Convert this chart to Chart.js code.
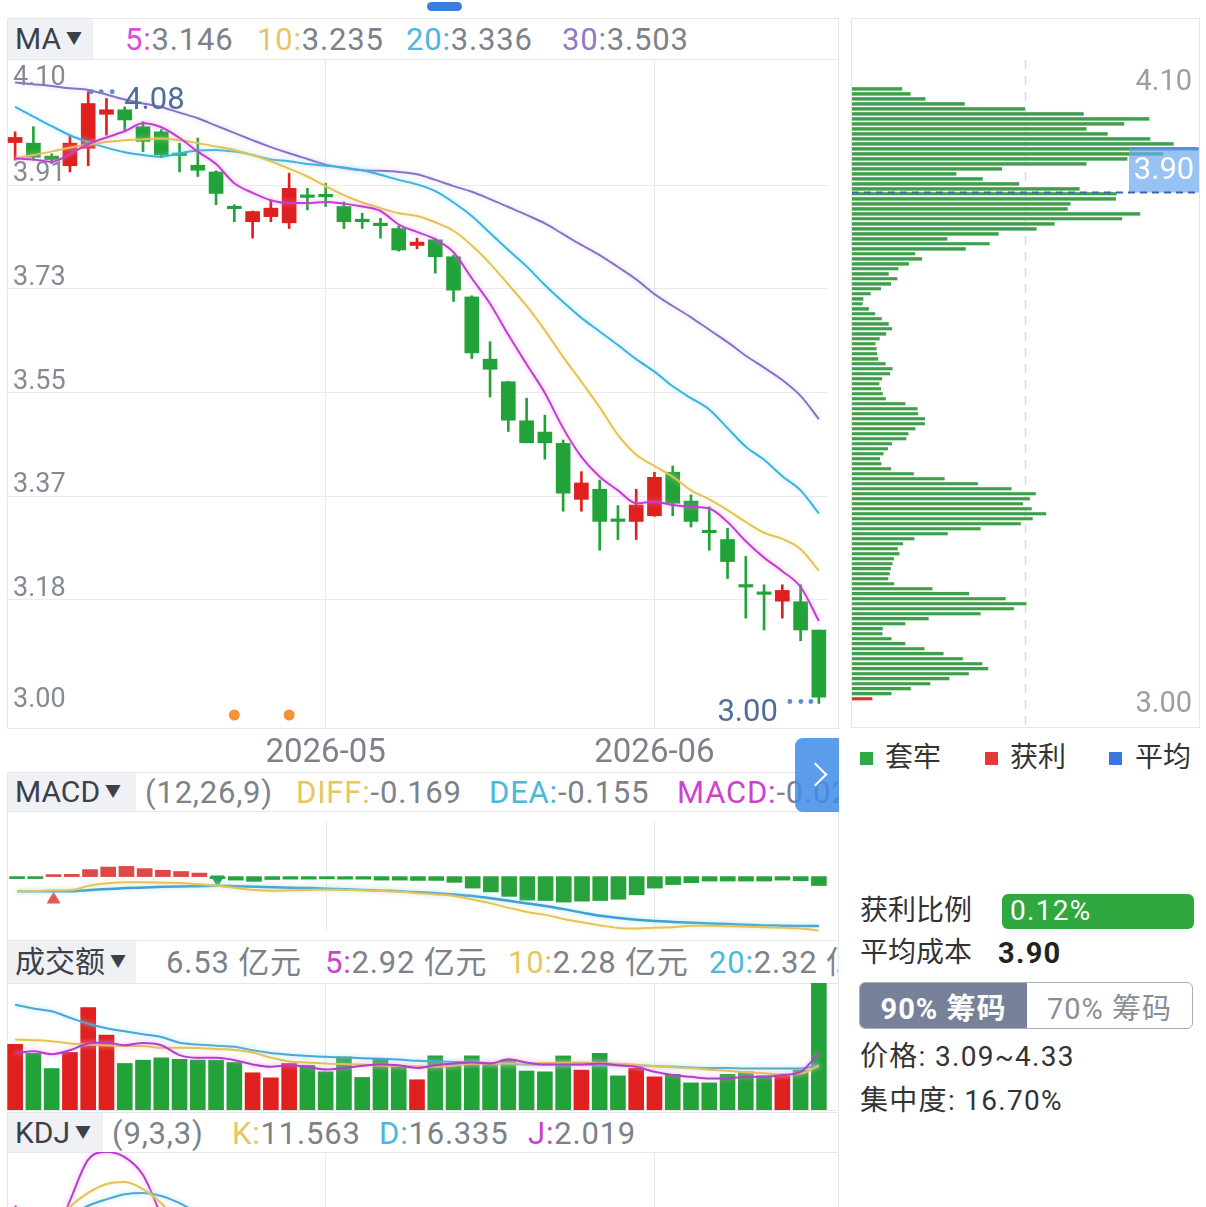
<!DOCTYPE html>
<html><head><meta charset="utf-8">
<script src="https://cdn.jsdelivr.net/npm/chart.js@4.4.1/dist/chart.umd.min.js"></script>
<style>
body{margin:0;width:1206px;height:1207px;overflow:hidden;background:#fff;position:relative;font-family:Roboto,'Noto Sans CJK SC',sans-serif;}
.box{position:absolute;border:1px solid #e6e7ea;box-sizing:border-box;}
.lbl{position:absolute;background:#f0f1f4;color:#3c4048;font-size:30px;line-height:1;display:flex;align-items:center;padding-left:7px;box-sizing:border-box;}
.tri{font-size:16px;margin-left:5px;color:#3c4048;}
.t{position:absolute;font-size:31px;letter-spacing:0.8px;line-height:1;color:#7d828a;white-space:nowrap;transform:translateY(-50%);}
.c{position:absolute;font-size:28px;line-height:1;color:#333;white-space:nowrap;transform:translateY(-50%);}
.w{letter-spacing:1.3px;}
canvas{position:absolute;}
</style></head>
<body>
<script>
// ---------------- DATA ----------------
const dates = ['2026-04-08','2026-04-09','2026-04-10','2026-04-13','2026-04-14','2026-04-15','2026-04-16','2026-04-17','2026-04-20','2026-04-21','2026-04-22','2026-04-23','2026-04-24','2026-04-27','2026-04-28','2026-04-29','2026-04-30','2026-05-06','2026-05-07','2026-05-08','2026-05-11','2026-05-12','2026-05-13','2026-05-14','2026-05-15','2026-05-18','2026-05-19','2026-05-20','2026-05-21','2026-05-22','2026-05-25','2026-05-26','2026-05-27','2026-05-28','2026-05-29','2026-06-01','2026-06-02','2026-06-03','2026-06-04','2026-06-05','2026-06-08','2026-06-09','2026-06-10','2026-06-11','2026-06-12'];
const opens  = [3.992,3.991,3.968,3.951,3.982,4.042,4.050,4.020,4.011,3.971,3.952,3.940,3.877,3.852,3.861,3.850,3.898,3.898,3.879,3.854,3.849,3.840,3.810,3.820,3.790,3.719,3.609,3.569,3.500,3.480,3.460,3.361,3.379,3.325,3.322,3.332,3.409,3.358,3.305,3.290,3.209,3.195,3.181,3.180,3.130];
const closes = [4.001,3.966,3.962,3.991,4.061,4.050,4.032,3.994,3.970,3.969,3.943,3.902,3.875,3.870,3.876,3.911,3.895,3.896,3.852,3.852,3.845,3.802,3.816,3.790,3.731,3.620,3.591,3.501,3.461,3.461,3.372,3.390,3.322,3.322,3.351,3.400,3.354,3.322,3.302,3.251,3.206,3.193,3.200,3.130,3.011];
const highs  = [4.011,4.020,3.972,4.005,4.082,4.070,4.055,4.029,4.015,3.991,4.000,3.942,3.882,3.871,3.890,3.938,3.911,3.920,3.887,3.867,3.858,3.844,3.823,3.823,3.793,3.721,3.640,3.570,3.540,3.510,3.466,3.410,3.395,3.350,3.379,3.409,3.420,3.369,3.348,3.310,3.260,3.210,3.210,3.210,3.130];
const lows   = [3.961,3.961,3.955,3.940,3.951,4.005,4.014,3.976,3.965,3.940,3.932,3.882,3.852,3.823,3.852,3.840,3.873,3.879,3.840,3.840,3.823,3.800,3.804,3.761,3.711,3.610,3.542,3.481,3.461,3.432,3.340,3.340,3.271,3.290,3.290,3.331,3.332,3.312,3.271,3.221,3.151,3.130,3.151,3.111,3.000];
const ma5  = [3.964,3.962,3.958,3.972,3.989,4.001,4.012,4.026,4.019,4.000,3.976,3.954,3.920,3.903,3.890,3.885,3.885,3.887,3.884,3.879,3.871,3.847,3.834,3.821,3.798,3.752,3.707,3.652,3.600,3.549,3.487,3.436,3.401,3.377,3.354,3.357,3.351,3.348,3.345,3.321,3.287,3.258,3.234,3.206,3.146];
const ma10 = [3.964,3.970,3.976,3.983,3.988,3.993,3.996,3.998,3.999,3.996,3.991,3.985,3.979,3.970,3.959,3.946,3.932,3.915,3.899,3.886,3.876,3.867,3.862,3.851,3.836,3.810,3.778,3.741,3.703,3.660,3.613,3.569,3.524,3.475,3.440,3.420,3.401,3.377,3.361,3.342,3.321,3.302,3.291,3.273,3.235];
const ma20 = [4.055,4.038,4.021,4.005,3.993,3.983,3.975,3.970,3.967,3.973,3.978,3.979,3.976,3.970,3.962,3.959,3.954,3.951,3.948,3.943,3.935,3.926,3.918,3.906,3.886,3.862,3.832,3.802,3.773,3.740,3.710,3.682,3.658,3.634,3.609,3.587,3.561,3.540,3.520,3.487,3.454,3.431,3.402,3.377,3.336];
const ma30 = [4.098,4.095,4.092,4.088,4.085,4.077,4.068,4.061,4.055,4.045,4.035,4.022,4.009,3.996,3.984,3.973,3.963,3.953,3.947,3.943,3.942,3.940,3.936,3.926,3.915,3.905,3.892,3.878,3.864,3.849,3.830,3.811,3.793,3.772,3.750,3.724,3.703,3.683,3.661,3.639,3.615,3.594,3.572,3.544,3.503];
const priceTickValues = [3.00,3.1833,3.3667,3.55,3.7333,3.9167,4.10];
const priceTickLabels = ['3.00','3.18','3.37','3.55','3.73','3.91','4.10'];
const signalIdx = [12,15];

const macdHist = [-0.004,-0.004,0.003,0.007,0.022,0.030,0.032,0.025,0.020,0.016,0.011,-0.006,-0.011,-0.015,-0.009,-0.008,-0.008,-0.007,-0.008,-0.008,-0.011,-0.011,-0.012,-0.012,-0.018,-0.036,-0.048,-0.062,-0.074,-0.075,-0.080,-0.077,-0.075,-0.071,-0.057,-0.036,-0.025,-0.019,-0.014,-0.014,-0.014,-0.014,-0.011,-0.013,-0.028];
const macdDiff = [-0.046,-0.045,-0.043,-0.042,-0.028,-0.021,-0.018,-0.018,-0.019,-0.020,-0.024,-0.029,-0.036,-0.042,-0.044,-0.043,-0.042,-0.041,-0.042,-0.043,-0.045,-0.047,-0.052,-0.056,-0.061,-0.072,-0.084,-0.098,-0.111,-0.120,-0.133,-0.143,-0.153,-0.161,-0.163,-0.160,-0.159,-0.154,-0.154,-0.156,-0.157,-0.159,-0.160,-0.163,-0.169];
const macdDea  = [-0.046,-0.046,-0.046,-0.046,-0.042,-0.039,-0.036,-0.034,-0.032,-0.031,-0.030,-0.029,-0.030,-0.032,-0.033,-0.035,-0.036,-0.038,-0.040,-0.042,-0.044,-0.046,-0.049,-0.052,-0.056,-0.061,-0.068,-0.076,-0.084,-0.092,-0.102,-0.113,-0.123,-0.130,-0.135,-0.139,-0.142,-0.145,-0.147,-0.149,-0.151,-0.153,-0.154,-0.155,-0.155];
const goldCross = {idx:2, val:-0.072};
const deadCross = {idx:11, val:-0.009};

const amount = [3.39,2.92,2.14,2.97,5.28,3.86,2.40,2.57,2.69,2.61,2.57,2.57,2.45,1.92,1.66,2.40,2.31,1.97,2.74,1.68,2.66,2.22,1.56,2.79,2.35,2.79,2.45,2.57,2.01,1.97,2.79,2.06,2.92,1.76,2.15,1.71,1.84,1.40,1.40,1.84,1.97,1.77,1.77,2.06,6.53];
const amtMa5  = [2.92,3.03,2.88,3.08,3.43,3.48,3.34,3.46,3.34,2.83,2.69,2.69,2.57,2.35,2.23,2.31,2.23,2.09,2.17,2.28,2.35,2.31,2.17,2.31,2.40,2.45,2.40,2.62,2.45,2.35,2.35,2.35,2.40,2.31,2.23,1.97,1.80,1.71,1.63,1.63,1.71,1.71,1.80,1.97,2.92];
const amtMa10 = [3.63,3.60,3.55,3.43,3.38,3.33,3.30,3.30,3.21,3.21,3.20,3.14,3.10,2.97,2.70,2.50,2.45,2.40,2.37,2.35,2.28,2.27,2.26,2.23,2.28,2.38,2.40,2.40,2.40,2.42,2.44,2.45,2.42,2.38,2.34,2.26,2.20,2.15,2.08,2.02,1.95,1.90,1.84,1.88,2.28];
const amtMa20 = [5.43,5.24,5.09,4.76,4.45,4.22,4.06,3.91,3.76,3.47,3.38,3.32,3.26,3.08,2.94,2.85,2.79,2.74,2.71,2.67,2.64,2.60,2.54,2.51,2.48,2.46,2.43,2.39,2.35,2.35,2.35,2.35,2.33,2.31,2.30,2.27,2.24,2.19,2.17,2.16,2.14,2.14,2.14,2.14,2.32];

const kdjK = [48,42,40,57,68,75,76.6,71,60,45,35,25,18,15,20,30,35,38,33,28,22,15,14,12,8,5,6,5,5,6,5,12,14,16,24,30,35,33,28,22,18,16,20,18,11.563];
const kdjD = [52,49,46,50,58,63,67,68,65.6,60,52,43,35,28,25,27,30,33,33,31,28,24,20,17,14,11,9,8,7,7,6,8,10,12,16,21,26,28,28,26,23,21,20,19,16.335];
const kdjJ = [58,38,30,62,94,100,96,82,50,15,1,-11,-16,-11,10,36,45,48,33,22,10,-3,2,2,-4,-7,0,-1,1,4,3,20,22,24,40,48,52,43,28,14,8,6,20,16,2.019];

// chip distribution (top price bin -> bottom), share of panel width in %
const chipTopPrice = 4.087, chipBinStep = 0.00884;
const chipVals = [14.5,16.9,21.2,32.5,49.9,66.8,85.7,78.5,67.6,73.7,86.0,92.7,99.8,89.7,79.4,67.6,43.3,30.1,37.7,48.2,65.6,76.3,76.1,63.0,62.2,83.1,77.9,58.4,53.2,42.3,27.5,39.7,32.8,18.2,20.2,16.4,13.4,10.6,13.1,11.3,8.4,5.4,3.3,3.1,4.9,6.7,8.6,10.6,11.6,9.9,8.0,6.8,7.1,7.3,7.6,9.7,11.7,11.0,8.7,7.9,8.4,8.9,9.8,15.4,18.9,19.1,21.1,21.0,18.3,16.3,15.7,11.6,10.4,9.1,8.1,8.5,11.3,17.8,26.7,36.3,46.0,53.0,51.3,49.3,51.8,56.0,52.1,48.7,37.1,27.6,18.0,14.7,13.2,13.7,12.1,11.7,11.2,10.9,10.5,12.2,23.2,33.8,44.3,50.3,46.7,37.1,22.1,15.4,8.9,8.8,11.4,15.4,20.9,26.4,32.0,37.6,39.3,33.7,28.1,22.6,17.0,11.4,5.9];
const chipPrices = chipVals.map((v,i)=> +(chipTopPrice - i*chipBinStep).toFixed(4));
const avgCost = 3.90;
const lastClose = closes[closes.length-1];

// ---------------- STYLE ----------------
const FONT = "Roboto, 'Noto Sans CJK SC', sans-serif";
const RED = '#e0201e', GREEN = '#22a33a';
const candleColors = opens.map((o,i)=> closes[i] >= o ? RED : GREEN);
const isMonthStart = i => i > 0 && i < dates.length && dates[i].slice(0,7) !== dates[i-1].slice(0,7);

const glow = {id:'glow',
  beforeDatasetDraw(chart,args){const ds=chart.data.datasets[args.index]; if(ds.glow){chart.ctx.save(); chart.ctx.shadowColor=ds.glow; chart.ctx.shadowBlur=5;}},
  afterDatasetDraw(chart,args){const ds=chart.data.datasets[args.index]; if(ds.glow){chart.ctx.restore();}}
};

function xScale(showLabels){
  return {type:'category', offset:true,
    grid:{offset:false, drawTicks:false, color:c=> isMonthStart(c.index)?'#e9e9ec':'rgba(0,0,0,0)', lineWidth:1},
    border:{display:false},
    ticks:{display:showLabels, autoSkip:false, maxRotation:0, minRotation:0, padding:6, color:'#7d828a',
      font:{size:33, family:FONT}, callback:(v,i)=> isMonthStart(i)? dates[i].slice(0,7) : ''},
    afterFit:s=>{s.height = showLabels?47:0;}
  };
}
function hiddenY(min,max){return {display:false,min,max};}
function line(data,color,glowColor,w){return {type:'line',data,borderColor:color,borderWidth:w||2,pointRadius:0,tension:0.35,cubicInterpolationMode:'monotone',glow:glowColor,order:0};}
const baseOpts = {responsive:false, animation:false, events:[], plugins:{legend:{display:false},tooltip:{enabled:false}}};

function mk(id,left,top,w,h){const c=document.createElement('canvas');c.id=id;c.width=w;c.height=h;c.style.left=left+'px';c.style.top=top+'px';c.style.width=w+'px';c.style.height=h+'px';document.body.appendChild(c);return c;}
function html(s){document.body.insertAdjacentHTML('beforeend',s);}

// ---------------- STATIC LAYOUT ----------------
html(`<div style="position:absolute;left:427px;top:2px;width:35px;height:9px;border-radius:5px;background:#3b7ddd"></div>`);
html(`<div class="box" style="left:7px;top:18px;width:832px;height:711px"></div>`);
html(`<div class="box" style="left:7px;top:18px;width:832px;height:42px;border-width:0 0 1px 0"></div>`);
html(`<div class="lbl" style="left:8px;top:19px;width:85px;height:40px">MA<span class="tri">▼</span></div>`);
html(`<div class="t" style="left:125px;top:39px"><span style="color:#d94fd9">5:</span>3.146</div>`);
html(`<div class="t" style="left:257px;top:39px"><span style="color:#e6c65e">10:</span>3.235</div>`);
html(`<div class="t" style="left:406px;top:39px"><span style="color:#4db8dc">20:</span>3.336</div>`);
html(`<div class="t" style="left:562px;top:39px"><span style="color:#8c7cc4">30:</span>3.503</div>`);

// MACD panel
html(`<div class="box" style="left:7px;top:772px;width:832px;height:169px"></div>`);
html(`<div class="box" style="left:7px;top:772px;width:832px;height:40px;border-width:0 0 1px 0"></div>`);
html(`<div class="lbl" style="left:8px;top:773px;width:128px;height:38px">MACD<span class="tri">▼</span></div>`);
html(`<div style="position:absolute;left:0;top:772px;width:838px;height:40px;overflow:hidden">
<div class="t" style="left:145px;top:20px">(12,26,9)</div>
<div class="t" style="left:296px;top:20px"><span style="color:#e6c65e">DIFF:</span>-0.169</div>
<div class="t" style="left:489px;top:20px"><span style="color:#4db8dc">DEA:</span>-0.155</div>
<div class="t" style="left:677px;top:20px"><span style="color:#cc44cc">MACD:</span>-0.028</div></div>`);

// Amount panel
html(`<div class="box" style="left:7px;top:940px;width:832px;height:171px"></div>`);
html(`<div class="box" style="left:7px;top:940px;width:832px;height:44px;border-width:0 0 1px 0"></div>`);
html(`<div class="lbl" style="left:8px;top:941px;width:128px;height:42px">成交额<span class="tri">▼</span></div>`);
html(`<div style="position:absolute;left:0;top:940px;width:838px;height:44px;overflow:hidden">
<div class="t" style="left:166px;top:22px">6.53 亿元</div>
<div class="t" style="left:325px;top:22px"><span style="color:#cc44cc">5:</span>2.92 亿元</div>
<div class="t" style="left:508px;top:22px"><span style="color:#e6c65e">10:</span>2.28 亿元</div>
<div class="t" style="left:709px;top:22px"><span style="color:#4db8dc">20:</span>2.32 亿元</div></div>`);

// KDJ panel
html(`<div class="box" style="left:7px;top:1112px;width:832px;height:120px"></div>`);
html(`<div class="box" style="left:7px;top:1112px;width:832px;height:41px;border-width:0 0 1px 0"></div>`);
html(`<div class="lbl" style="left:8px;top:1113px;width:95px;height:39px">KDJ<span class="tri">▼</span></div>`);
html(`<div class="t" style="left:112px;top:1133px">(9,3,3)</div>`);
html(`<div class="t" style="left:232px;top:1133px"><span style="color:#e6c65e">K:</span>11.563</div>`);
html(`<div class="t" style="left:379px;top:1133px"><span style="color:#4db8dc">D:</span>16.335</div>`);
html(`<div class="t" style="left:528px;top:1133px"><span style="color:#cc44cc">J:</span>2.019</div>`);

// Right chip panel
html(`<div class="box" style="left:851px;top:18px;width:349px;height:710px"></div>`);
html(`<div style="position:absolute;left:860px;top:752px;width:13px;height:13px;background:#2fa845"></div><div class="c" style="left:885px;top:758px">套牢</div>`);
html(`<div style="position:absolute;left:985px;top:752px;width:13px;height:13px;background:#e03a3a"></div><div class="c" style="left:1010px;top:758px">获利</div>`);
html(`<div style="position:absolute;left:1109px;top:752px;width:13px;height:13px;background:#3a78e0"></div><div class="c" style="left:1135px;top:758px">平均</div>`);
html(`<div class="c" style="left:860px;top:911px">获利比例</div>`);
html(`<div style="position:absolute;left:1002px;top:894px;width:192px;height:35px;border-radius:6px;background:#2ea83f"></div><div class="c w" style="left:1010px;top:911px;color:#fff">0.12%</div>`);
html(`<div class="c" style="left:860px;top:953px">平均成本</div><div class="c w" style="left:998px;top:953px;font-weight:bold;color:#222;font-size:29px">3.90</div>`);
html(`<div style="position:absolute;left:859px;top:982px;width:334px;height:47px;border:1.5px solid #a9aeb8;border-radius:6px;box-sizing:border-box;overflow:hidden;display:flex">
<div style="width:167px;height:100%;background:#77829a;color:#fff;font-weight:bold;font-size:29px;letter-spacing:1px;display:flex;align-items:center;justify-content:center">90% 筹码</div>
<div style="flex:1;height:100%;color:#8a8f97;font-size:29px;letter-spacing:1px;display:flex;align-items:center;justify-content:center">70% 筹码</div></div>`);
html(`<div class="c w" style="left:860px;top:1057px">价格: 3.09~4.33</div>`);
html(`<div class="c w" style="left:860px;top:1101px">集中度: 16.70%</div>`);

// ---------------- PRICE CHART ----------------
const priceDeco = {id:'priceDeco', afterDatasetsDraw(chart){
  const {ctx, scales:{x,y}, chartArea:ca} = chart;
  ctx.save();
  ctx.fillStyle = '#f39237';
  signalIdx.forEach(i=>{ctx.beginPath(); ctx.arc(x.getPixelForValue(i), ca.bottom-13, 5.5, 0, Math.PI*2); ctx.fill();});
  let hi=0, lo=0; highs.forEach((h,i)=>{if(h>highs[hi])hi=i;}); lows.forEach((l,i)=>{if(l<lows[lo])lo=i;});
  const hx=x.getPixelForValue(hi), hy=y.getPixelForValue(highs[hi]);
  const lx=x.getPixelForValue(lo), ly=y.getPixelForValue(lows[lo]);
  ctx.fillStyle='#5d8ad0';
  [3,13,24].forEach(d=>{ctx.beginPath();ctx.arc(hx+d,hy,2.4,0,Math.PI*2);ctx.fill();});
  [-29,-18,-8].forEach(d=>{ctx.beginPath();ctx.arc(lx+d,ly-2,2.4,0,Math.PI*2);ctx.fill();});
  ctx.fillStyle='#4f6d9a'; ctx.font='31px '+FONT; ctx.textBaseline='middle';
  ctx.textAlign='left'; ctx.fillText(highs[hi].toFixed(2), hx+36, hy+10);
  ctx.textAlign='right'; ctx.fillText(lows[lo].toFixed(2), lx-41, ly+10);
  ctx.font='27px '+FONT; ctx.fillStyle='#868b93'; ctx.textAlign='left';
  priceTickValues.forEach((v,k)=>{
    const py=y.getPixelForValue(v);
    if(k===0||k===priceTickValues.length-1){ctx.textBaseline='middle'; ctx.fillText(priceTickLabels[k],13,py-3);}
    else {ctx.textBaseline='alphabetic'; ctx.fillText(priceTickLabels[k],13,py-4);}
  });
  ctx.restore();
}};

new Chart(mk('price',0,60,838,715), {
  type:'bar',
  data:{labels:dates, datasets:[
    line(ma5,'#c23fd0','rgba(245,130,245,0.7)'),
    line(ma10,'#e2c25a','rgba(250,232,150,0.7)'),
    line(ma20,'#3cb3df','rgba(140,220,250,0.7)'),
    line(ma30,'#8a72c8','rgba(190,170,235,0.5)'),
    {type:'bar', data:opens.map((o,i)=>[o,closes[i]]), backgroundColor:candleColors, barThickness:14, minBarLength:2.5, grouped:false, order:1},
    {type:'bar', data:lows.map((l,i)=>[l,highs[i]]), backgroundColor:candleColors, barThickness:2, grouped:false, order:2}
  ]},
  options:{...baseOpts, layout:{padding:{left:6,right:10,top:0,bottom:0}},
    scales:{
      x:xScale(true),
      y:{min:2.9567,max:4.138,ticks:{display:false},border:{display:false},
        grid:{drawTicks:false,color:c=>(c.index===0||c.index===priceTickValues.length-1)?'rgba(0,0,0,0)':'#ebebed'},
        afterBuildTicks:s=>{s.ticks=priceTickValues.map(v=>({value:v}));},
        afterFit:s=>{s.width=0;}}
    }},
  plugins:[glow, priceDeco]
});

// ---------------- CHIP CHART ----------------
const chipDeco = {id:'chipDeco',
  beforeDatasetsDraw(chart){const {ctx,scales:{x},chartArea:ca}=chart; ctx.save(); ctx.strokeStyle='#dcdcdf'; ctx.lineWidth=1.5; ctx.setLineDash([9,7]); const px=x.getPixelForValue(50); ctx.beginPath(); ctx.moveTo(px,ca.top); ctx.lineTo(px,ca.bottom); ctx.stroke(); ctx.restore();},
  afterDatasetsDraw(chart){
    const {ctx,scales:{y},chartArea:ca}=chart; ctx.save();
    const ay=y.getPixelForValue(avgCost)-2;
    ctx.fillStyle='rgba(112,170,238,0.72)'; ctx.fillRect(ca.right-70, ay-44, 70, 44);
    ctx.fillStyle='#4f8fe0'; ctx.fillRect(ca.right-70, ay-45, 70, 2);
    ctx.strokeStyle='#3a68b0'; ctx.lineWidth=2; ctx.setLineDash([7,5]); ctx.beginPath(); ctx.moveTo(ca.left,ay); ctx.lineTo(ca.right,ay); ctx.stroke(); ctx.setLineDash([]);
    ctx.font='31px '+FONT; ctx.textBaseline='middle'; ctx.textAlign='center'; ctx.fillStyle='#fff'; ctx.fillText(avgCost.toFixed(2), ca.right-35, ay-21);
    ctx.textAlign='right'; ctx.fillStyle='#9a9ea6'; ctx.font='29px '+FONT;
    ctx.fillText(priceTickLabels[priceTickLabels.length-1], ca.right-7, y.getPixelForValue(priceTickValues[priceTickValues.length-1])+1.5);
    ctx.fillText(priceTickLabels[0], ca.right-7, y.getPixelForValue(priceTickValues[0])+1);
    ctx.restore();
  }};
new Chart(mk('chip',852,60,347,668), {
  type:'bar',
  data:{datasets:[{data:chipVals.map((v,i)=>({x:v,y:chipPrices[i]})), backgroundColor:chipPrices.map(p=>p<lastClose?'#d93434':'#3f9d4d'), borderColor:chipPrices.map(p=>p<lastClose?'rgba(240,140,140,0.6)':'rgba(160,225,160,0.6)'), borderWidth:{top:0.5,bottom:0.5,right:0.5,left:0}, barThickness:3.5}]},
  options:{...baseOpts, indexAxis:'y', layout:{padding:0},
    scales:{x:{type:'linear',min:0,max:100,display:false,offset:false}, y:{type:'linear',min:2.9567,max:4.138,display:false,offset:false}}},
  plugins:[chipDeco]
});

// ---------------- MACD ----------------
new Chart(mk('macd',0,812,838,128), {
  type:'bar',
  data:{labels:dates, datasets:[
    line(macdDiff,'#e6c35a','rgba(250,232,150,0.7)'),
    line(macdDea,'#3d9fd3','rgba(140,225,250,0.8)',2.5),
    {type:'line', data:dates.map((d,i)=> i===goldCross.idx?goldCross.val:null), showLine:false, pointStyle:'triangle', pointRadius:8, pointBackgroundColor:'#e05858', pointBorderWidth:0, order:0},
    {type:'line', data:dates.map((d,i)=> i===deadCross.idx?deadCross.val:null), showLine:false, pointStyle:'triangle', pointRotation:180, pointRadius:8, pointBackgroundColor:'#2aa34a', pointBorderWidth:0, order:0},
    {type:'bar', data:macdHist, backgroundColor:macdHist.map(v=>v>=0?'#e04848':'#27a23c'), barThickness:15, minBarLength:2, order:1}
  ]},
  options:{...baseOpts, layout:{padding:{left:6,right:10,top:0,bottom:0}},
    scales:{x:xScale(false), y:hiddenY(-0.1737,0.1775)}},
  plugins:[glow]
});

// ---------------- AMOUNT ----------------
new Chart(mk('amt',0,983,838,127), {
  type:'bar',
  data:{labels:dates, datasets:[
    line(amtMa5,'#b23fcb','rgba(245,130,245,0.7)'),
    line(amtMa10,'#e2c25a','rgba(250,232,150,0.7)'),
    line(amtMa20,'#4aa6d6','rgba(140,220,250,0.8)'),
    {type:'bar', data:amount, backgroundColor:candleColors, barThickness:15, order:1}
  ]},
  options:{...baseOpts, layout:{padding:{left:6,right:10,top:0,bottom:0}},
    scales:{x:xScale(false), y:hiddenY(0,6.55)}},
  plugins:[glow]
});

// ---------------- KDJ ----------------
new Chart(mk('kdj',0,1152,838,128), {
  type:'line',
  data:{labels:dates, datasets:[
    line(kdjK,'#e2c25a','rgba(250,232,150,0.7)'),
    line(kdjD,'#4aa6d6','rgba(140,220,250,0.8)'),
    line(kdjJ,'#b23fcb','rgba(245,130,245,0.7)')
  ]},
  options:{...baseOpts, layout:{padding:{left:6,right:10,top:0,bottom:0}},
    scales:{x:xScale(false), y:hiddenY(0,100)}},
  plugins:[glow]
});

// next-page button (drawn over MACD legend)
html(`<div style="position:absolute;left:795px;top:738px;width:44px;height:74px;border-radius:8px 0 0 8px;background:rgba(64,140,232,0.85)">
<div style="position:absolute;left:12px;top:28px;width:15px;height:15px;border-top:2.5px solid #fff;border-right:2.5px solid #fff;transform:rotate(45deg)"></div></div>`);
</script>
</body></html>
